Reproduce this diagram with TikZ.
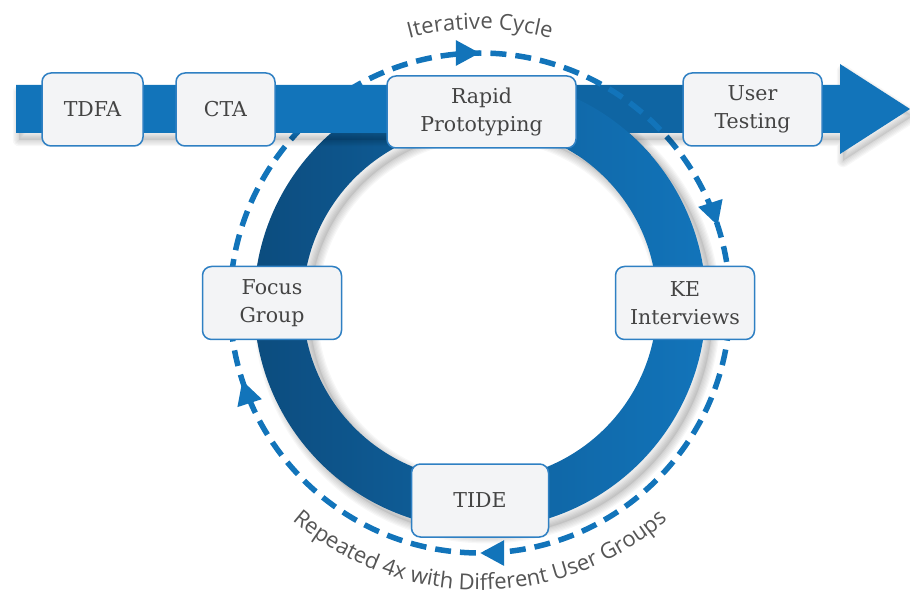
\documentclass[tikz,border=0pt]{standalone}
\usepackage{fontspec}
\setmainfont{DejaVu Serif}
\newfontfamily\arcfont{Open Sans}
\usetikzlibrary{arrows.meta,decorations.markings,decorations.text}

\definecolor{bandblue}{HTML}{1274BA}
\definecolor{ringdark}{HTML}{0C4C7E}
\definecolor{boxfill}{HTML}{F3F4F6}
\definecolor{boxline}{HTML}{2F80C3}
\definecolor{boxtext}{HTML}{444444}
\definecolor{arcgray}{HTML}{555555}

\begin{document}
\begin{tikzpicture}[x=1pt,y=1pt,
  stage/.style={draw=boxline,line width=1.5pt,fill=boxfill,rounded corners=9pt,
    text=boxtext,align=center,font=\fontsize{20.5}{28}\selectfont,
    minimum width=139pt,minimum height=73pt,inner sep=0pt},
  loopline/.style={draw=bandblue,line width=5.5pt,dash pattern=on 16pt off 9pt},
  arrowmarks/.style 2 args={decoration={markings,
    mark=at position #1 with {\arrow[bandblue]{Triangle[length=24pt,width=24pt]}},
    mark=at position #2 with {\arrow[bandblue]{Triangle[length=24pt,width=24pt]}}},
    postaction={decorate}},
  ring/.style={even odd rule,left color=ringdark,right color=bandblue,middle color=ringdark!45!bandblue}
]
\useasboundingbox (0,0) rectangle (910,595);
\coordinate (c) at (480,292);

% ring and its shadow
\fill[black,opacity=0.08,even odd rule] (487,285) circle[radius=226] (487,285) circle[radius=177];
\foreach \k in {1,...,6}
  \draw[black,opacity=0.03,line width=\k*2.5pt] (487,285) circle[radius=226] (487,285) circle[radius=177];
\shade[ring] (c) circle[radius=226] (c) circle[radius=177];

\draw[loopline,arrowmarks={0.5}{0.879}] (c) ++(185:250) arc[start angle=185,end angle=-5,radius=250];
\draw[loopline,arrowmarks={0.5}{0.9235}] (c) ++(-5:250) arc[start angle=-5,end angle=-175,radius=250];

% band
\fill[black,opacity=0.08,shift={(3,-7)}] (16,462) -- (840,462) -- (840,441) -- (910,486) -- (840,531) -- (840,510) -- (16,510) -- cycle;
\foreach \k in {1,...,5}
  \draw[black,opacity=0.03,line width=\k*2.5pt,line join=round,shift={(3,-7)}] (16,462) -- (840,462) -- (840,441) -- (910,486) -- (840,531) -- (840,510) -- (16,510) -- cycle;
\fill[bandblue] (16,462) -- (840,462) -- (840,441) -- (910,486) -- (840,531) -- (840,510) -- (16,510) -- cycle;
\fill[black,opacity=0.12] (576,462) rectangle (684,510);

\begin{scope}
\clip (480,440) rectangle (720,510);
\shade[ring] (c) circle[radius=226] (c) circle[radius=177];
\end{scope}
\begin{scope}
\clip (480,462) rectangle (840,510);
\draw[loopline] (c) ++(185:250) arc[start angle=185,end angle=-5,radius=250];
\end{scope}

\node[stage,minimum width=101pt] (tdfa) at (92.5,485.5) {TDFA};
\node[stage,minimum width=99pt] (cta) at (225.5,485.5) {CTA};
\node[stage,minimum width=189pt,minimum height=72pt] (rapid) at (481.5,483) {Rapid\\Prototyping};
\node[stage] (user) at (752.5,485.5) {User\\Testing};
\node[stage] (focus) at (272,292) {Focus\\Group};
\node[stage] (ke) at (685,292) {KE\\Interviews};
\node[stage,minimum width=137pt] (tide) at (480,94.5) {TIDE};

\path[decorate,decoration={text along path,text align=center,
  text={|\arcfont\fontsize{22}{26}\selectfont\color{arcgray}|Iterative Cycle}}]
  (c) ++(120:274) arc[start angle=120,end angle=60,radius=274];
\path[decorate,decoration={text along path,text align=center,
  text={|\arcfont\fontsize{22}{26}\selectfont\color{arcgray}|Repeated 4x with Different User Groups}}]
  (c) ++(220:287) arc[start angle=220,end angle=320,radius=287];

\end{tikzpicture}
\end{document}
